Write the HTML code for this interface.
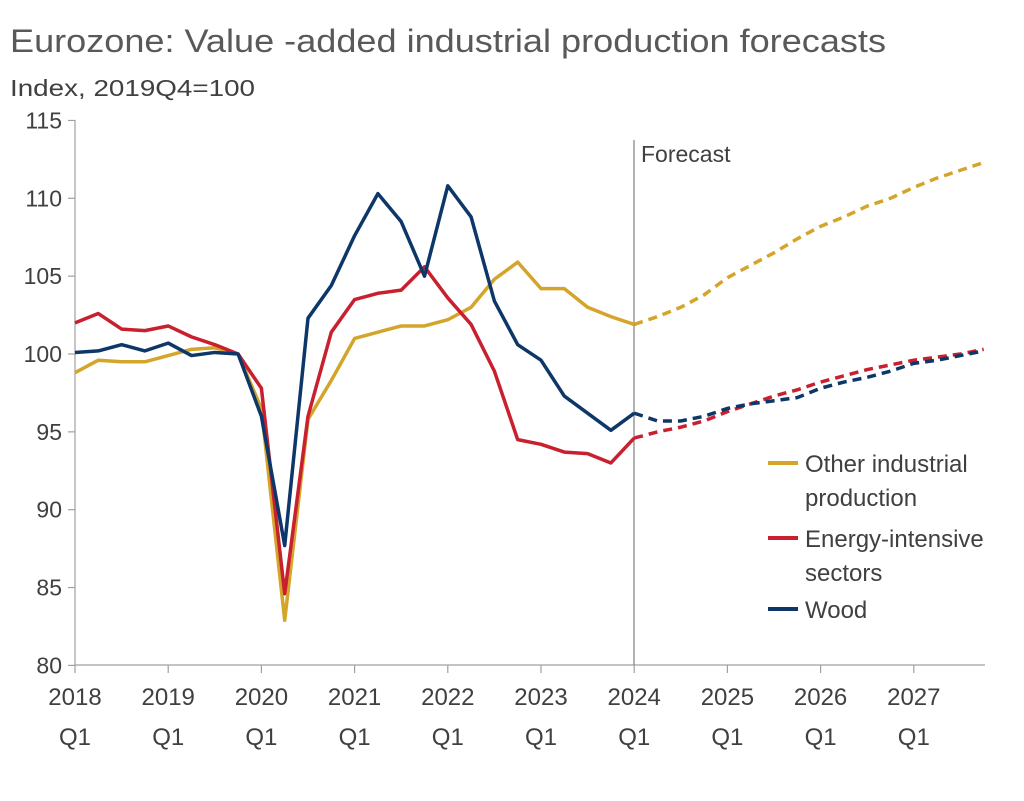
<!DOCTYPE html>
<html><head><meta charset="utf-8"><style>
body{margin:0;background:#fff;}
svg text{font-family:"Liberation Sans",sans-serif;fill:#404040;}
</style></head><body>
<svg id="c" width="1024" height="796" xmlns="http://www.w3.org/2000/svg">
<rect width="1024" height="796" fill="#fff"/>
<text x="10" y="52" font-size="32" textLength="876" lengthAdjust="spacingAndGlyphs" style="fill:#595959">Eurozone: Value -added industrial production forecasts</text>
<text x="10" y="96" font-size="23" textLength="245" lengthAdjust="spacingAndGlyphs">Index, 2019Q4=100</text>
<g id="axes" stroke="#a0a0a0" stroke-width="1.2"></g>
<line x1="634" y1="140" x2="634" y2="665" stroke="#808080" stroke-width="1.2"/>
<text x="641" y="162" font-size="23">Forecast</text>
<g id="lines"></g>
<g font-size="24">
<line x1="768" y1="463" x2="798" y2="463" stroke="#D4A52A" stroke-width="4"/>
<text x="805" y="472">Other industrial</text><text x="805" y="506">production</text>
<line x1="768" y1="538" x2="798" y2="538" stroke="#C8202E" stroke-width="4"/>
<text x="805" y="547">Energy-intensive</text><text x="805" y="581">sectors</text>
<line x1="768" y1="609" x2="798" y2="609" stroke="#0C3768" stroke-width="4"/>
<text x="805" y="618">Wood</text>
</g>
</svg>
<script>
var NS="http://www.w3.org/2000/svg",svg=document.getElementById('c');
function X(i){return 75+i*23.3;}function Y(v){return 354-(v-100)*15.57;}
function el(t,a,p){var e=document.createElementNS(NS,t);for(var k in a)e.setAttribute(k,a[k]);(p||svg).appendChild(e);return e;}
var ax=document.getElementById('axes');
el('line',{x1:75,y1:120,x2:75,y2:665},ax);el('line',{x1:75,y1:665,x2:985,y2:665},ax);
for(var v=80;v<=115;v+=5){el('line',{x1:68,y1:Y(v),x2:75,y2:Y(v)},ax);var t=el('text',{x:62,y:Y(v)+8,'font-size':23,'text-anchor':'end'});t.textContent=v;}
for(var k=0;k<10;k++){var x=75+k*93.2;el('line',{x1:x,y1:665,x2:x,y2:673},ax);
var t=el('text',{x:x,y:705,'font-size':24,'text-anchor':'middle'});t.textContent=2018+k;
var t2=el('text',{x:x,y:745,'font-size':24,'text-anchor':'middle'});t2.textContent='Q1';}
var L=document.getElementById('lines');
var S=[
["#D4A52A",[98.8,99.6,99.5,99.5,99.9,100.3,100.4,100,96.5,82.9,95.8,98.3,101,101.4,101.8,101.8,102.2,103,104.8,105.9,104.2,104.2,103,102.4,101.9],[102.4,103,103.8,104.9,105.7,106.5,107.4,108.2,108.8,109.5,110,110.7,111.3,111.8,112.3]],
["#C8202E",[102,102.6,101.6,101.5,101.8,101.1,100.6,100,97.8,84.6,96,101.4,103.5,103.9,104.1,105.6,103.6,101.9,98.9,94.5,94.2,93.7,93.6,93,94.6],[95,95.3,95.7,96.3,96.8,97.3,97.7,98.2,98.6,99,99.3,99.6,99.8,100,100.3]],
["#0C3768",[100.1,100.2,100.6,100.2,100.7,99.9,100.1,100,96,87.7,102.3,104.4,107.6,110.3,108.5,105,110.8,108.8,103.4,100.6,99.6,97.3,96.2,95.1,96.2],[95.7,95.7,96,96.5,96.8,97,97.2,97.8,98.2,98.5,98.9,99.4,99.6,99.9,100.2]]];
S.forEach(function(s){
var p=s[1].map(function(v,i){return X(i)+','+Y(v)}).join(' ');
el('polyline',{points:p,fill:'none',stroke:s[0],'stroke-width':3.5,'stroke-linejoin':'round'},L);
var f=[s[1][24]].concat(s[2]);
var q=f.map(function(v,i){return X(24+i)+','+Y(v)}).join(' ');
el('polyline',{points:q,fill:'none',stroke:s[0],'stroke-width':3.5,'stroke-dasharray':'9,6'},L);
});
</script>
</body></html>
